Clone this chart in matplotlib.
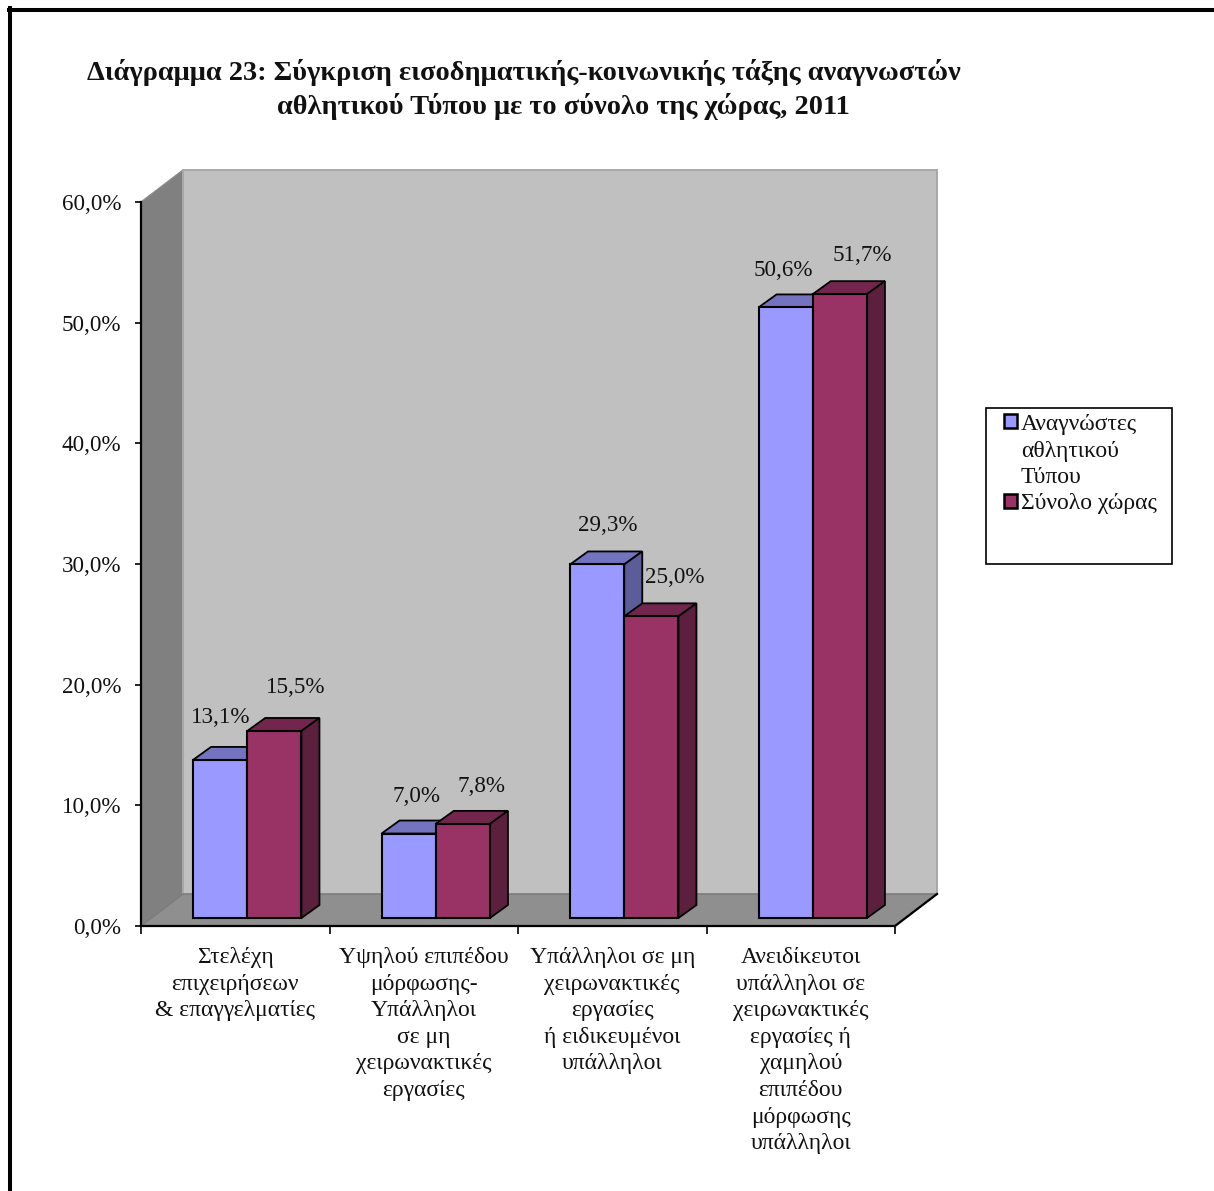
import matplotlib
matplotlib.use("Agg")
import matplotlib.pyplot as plt
import numpy as np
from matplotlib.patches import Polygon, Rectangle
from matplotlib.lines import Line2D

categories = [
    "Στελέχη\nεπιχειρήσεων\n& επαγγελματίες",
    "Υψηλού επιπέδου\nμόρφωσης-\nΥπάλληλοι\nσε μη\nχειρωνακτικές\nεργασίες",
    "Υπάλληλοι σε μη\nχειρωνακτικές\nεργασίες\nή ειδικευμένοι\nυπάλληλοι",
    "Ανειδίκευτοι\nυπάλληλοι σε\nχειρωνακτικές\nεργασίες ή\nχαμηλού\nεπιπέδου\nμόρφωσης\nυπάλληλοι",
]
readers = [13.1, 7.0, 29.3, 50.6]
country = [15.5, 7.8, 25.0, 51.7]
y_ticks = [0, 10, 20, 30, 40, 50, 60]
legend_labels = ["Αναγνώστες\nαθλητικού\nΤύπου", "Σύνολο χώρας"]

W, H = 1214, 1191
plt.rcParams["font.family"] = ["Liberation Serif", "DejaVu Serif"]
fs = 16.6
fs_text = 17
line_sp = 1.35

fig = plt.figure(figsize=(W / 100, H / 100), dpi=100)
L, R, T, B = 141, 895, 202, 926
ax = fig.add_axes([L / W, 1 - B / H, (R - L) / W, (B - T) / H])
ax.set_xlim(0, 4)
ax.set_ylim(0, 60)
ax.patch.set_visible(False)

# pixel sizes turned into data units
px_x = 4 / (R - L)
px_y = 60 / (B - T)
wall_dx, wall_dy = 42 * px_x, 32 * px_y
bar_dx, bar_dy = 18 * px_x, 13 * px_y
bar_w = 54.2 * px_x
shift_x, base = 12 * px_x, 8 * px_y

# walls and floor
ax.add_patch(Polygon([(0, 0), (wall_dx, wall_dy), (wall_dx, 60 + wall_dy), (0, 60)],
                     fc="#808080", ec="#8c8c8c", lw=1, clip_on=False, zorder=1))
ax.add_patch(Rectangle((wall_dx, wall_dy), 4, 60, fc="#c0c0c0", ec="#a8a8a8", lw=1.4,
                       clip_on=False, zorder=1))
ax.add_patch(Polygon([(0, 0), (4, 0), (4 + wall_dx, wall_dy), (wall_dx, wall_dy)],
                     fc="#8f8f8f", ec="#7a7a7a", lw=1, clip_on=False, zorder=2))
ax.plot([4, 4 + wall_dx], [0, wall_dy], color="black", lw=1.6, clip_on=False, zorder=3)


def bars(x, vals, face, top, side, z):
    ax.bar(x, vals, width=bar_w, bottom=base, align="edge", color=face, edgecolor="black",
           linewidth=1.5, zorder=z + 1, clip_on=False)
    for xi, v in zip(x, vals):
        y0, y1 = base, base + v
        ax.add_patch(Polygon([(xi, y1), (xi + bar_w, y1), (xi + bar_w + bar_dx, y1 + bar_dy),
                              (xi + bar_dx, y1 + bar_dy)], fc=top, ec="black", lw=1.3,
                             zorder=z, clip_on=False))
        ax.add_patch(Polygon([(xi + bar_w, y0), (xi + bar_w + bar_dx, y0 + bar_dy),
                              (xi + bar_w + bar_dx, y1 + bar_dy), (xi + bar_w, y1)],
                             fc=side, ec="black", lw=1.3, zorder=z, clip_on=False))


pos = np.arange(len(categories))
x_blue = pos + 0.5 + shift_x - bar_w
x_red = pos + 0.5 + shift_x
for i in pos:
    bars([x_blue[i]], [readers[i]], "#9999ff", "#7373bf", "#5c5c99", 4 + 4 * i)
    bars([x_red[i]], [country[i]], "#993366", "#73264d", "#5c1f3d", 6 + 4 * i)

# value labels, nudged in pixels from the top of each bar
blue_off = [(1, 42.5), (8, 37.5), (11, 38.5), (-2, 36.5)]
red_off = [(21, 43.5), (19, 37.5), (23, 38.5), (22, 38.5)]
for i in pos:
    for xs, v, off in ((x_blue[i], readers[i], blue_off[i]), (x_red[i], country[i], red_off[i])):
        ax.annotate(f"{v:.1f}%".replace(".", ","), (xs + bar_w / 2, base + v),
                    xytext=(off[0] * 0.72, off[1] * 0.72), textcoords="offset points",
                    ha="center", va="center", fontsize=fs, color="#111111", zorder=40,
                    annotation_clip=False)

for s in ["top", "right"]:
    ax.spines[s].set_visible(False)
for s in ["left", "bottom"]:
    ax.spines[s].set_linewidth(1.6)
    ax.spines[s].set_zorder(30)

ax.set_yticks(y_ticks)
ax.set_yticklabels([f"{v:.1f}%".replace(".", ",") for v in y_ticks], fontsize=fs, color="#111111")
ax.set_xticks(np.arange(5))
ax.set_xticklabels([])
ax.tick_params(axis="y", length=4, width=1.2, pad=10)
ax.tick_params(axis="x", length=6, width=1.2)

for i, c in zip(pos, categories):
    ax.annotate(c, (i + 0.5, 0), xytext=(0, -21 * 0.72), textcoords="offset points",
                ha="center", va="top", fontsize=fs_text, linespacing=line_sp, color="#111111",
                annotation_clip=False)

# title
fig.text(524 / W, 1 - 72 / H, "Διάγραμμα 23: Σύγκριση εισοδηματικής-κοινωνικής τάξης αναγνωστών",
         ha="center", va="center", fontsize=20.4, fontweight="bold", color="#111111")
fig.text(563 / W, 1 - 106 / H, "αθλητικού Τύπου με το σύνολο της χώρας, 2011",
         ha="center", va="center", fontsize=20.4, fontweight="bold", color="#111111")

# legend box
tf = fig.transFigure
fig.add_artist(Rectangle((986 / W, 1 - 564 / H), 186 / W, 156 / H, fc="white", ec="black",
                         lw=1.2, transform=tf))
for py, face in ((421, "#9999ff"), (501, "#993366")):
    fig.add_artist(Rectangle((1003.5 / W, 1 - (py + 6.5) / H), 13 / W, 13 / H, fc=face, ec="black",
                             lw=1.8, transform=tf))
fig.text(1021 / W, 1 - 414 / H, legend_labels[0], ha="left", va="top", fontsize=fs_text,
         linespacing=line_sp, color="#111111")
fig.text(1021 / W, 1 - 503 / H, legend_labels[1], ha="left", va="center", fontsize=fs_text,
         color="#111111")

# page frame
fig.add_artist(Line2D([10.3 / W, 10.3 / W], [0, 1 - 8 / H], color="black", lw=2.9, transform=tf))
fig.add_artist(Line2D([8.5 / W, 1], [1 - 9.5 / H, 1 - 9.5 / H], color="black", lw=2.9, transform=tf))

fig.savefig("out.png", dpi=100)
